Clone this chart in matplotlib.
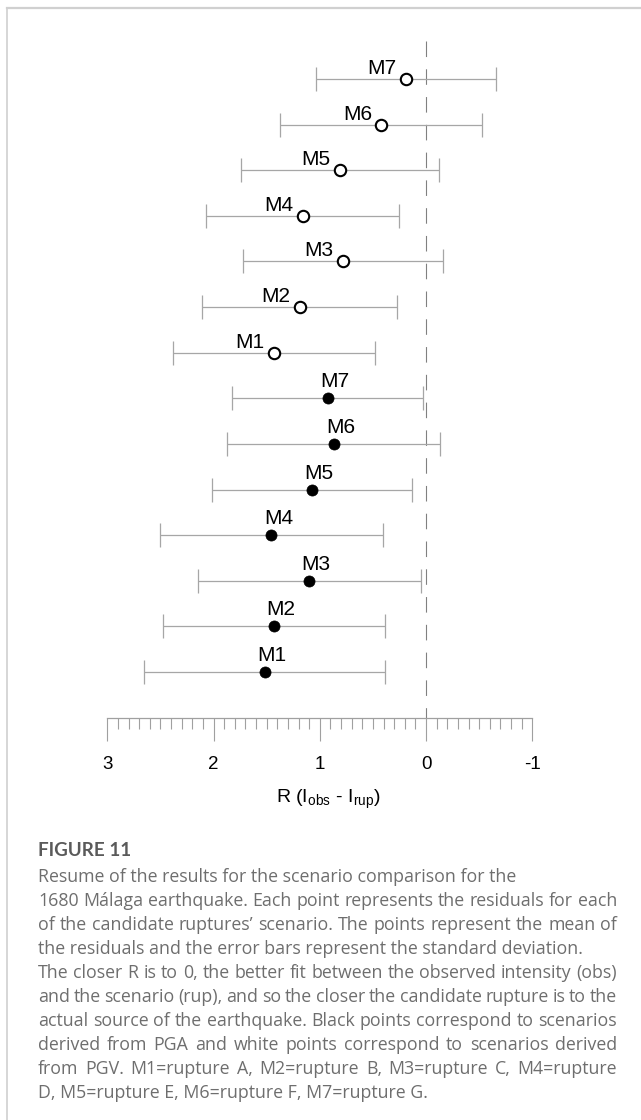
import matplotlib
matplotlib.use("Agg")
import matplotlib.pyplot as plt
from matplotlib.lines import Line2D
from matplotlib.ticker import FixedLocator

# ---------------- data ----------------
models = ["M1", "M2", "M3", "M4", "M5", "M6", "M7"]
pgv_mean = [1.43, 1.19, 0.78, 1.16, 0.81, 0.42, 0.19]   # white points
pgv_sd = [0.95, 0.92, 0.94, 0.91, 0.93, 0.95, 0.85]
pga_mean = [1.52, 1.43, 1.10, 1.455, 1.075, 0.87, 0.925]  # black points
pga_sd = [1.13, 1.045, 1.05, 1.05, 0.94, 1.00, 0.90]
xticks = [3, 2, 1, 0, -1]
xtick_labels = ["3", "2", "1", "0", "-1"]
xlabel = r"R (I$_{\mathrm{obs}}$ - I$_{\mathrm{rup}}$)"
caption_title = "FIGURE 11"
caption_lines = [
    ("Resume of the results for the scenario comparison for the", False),
    ("1680 Málaga earthquake. Each point represents the residuals for each", True),
    ("of the candidate ruptures\u2019 scenario. The points represent the mean of", True),
    ("the residuals and the error bars represent the standard deviation.", False),
    ("The closer R is to 0, the better fit between the observed intensity (obs)", True),
    ("and the scenario (rup), and so the closer the candidate rupture is to the", True),
    ("actual source of the earthquake. Black points correspond to scenarios", True),
    ("derived from PGA and white points correspond to scenarios derived", True),
    ("from PGV. M1=rupture A, M2=rupture B, M3=rupture C, M4=rupture", True),
    ("D, M5=rupture E, M6=rupture F, M7=rupture G.", False),
]

# ---------------- layout ----------------
W, H, DPI = 641, 1120, 100
plt.rcParams["mathtext.fontset"] = "custom"
plt.rcParams["mathtext.rm"] = "Liberation Sans"
plt.rcParams["mathtext.it"] = "Liberation Sans:italic"
plt.rcParams["font.family"] = ["Liberation Sans", "DejaVu Sans"]

fig = plt.figure(figsize=(W / DPI, H / DPI), dpi=DPI)
fig.patch.set_facecolor("white")

ax_l, ax_r, ax_t, ax_b = 40, 600, 30, 718
ax = fig.add_axes([ax_l / W, 1 - ax_b / H, (ax_r - ax_l) / W, (ax_b - ax_t) / H])

px_per_unit = 106.25
x0_px = 426.05
ax.set_xlim((x0_px - ax_l) / px_per_unit, -(ax_r - x0_px) / px_per_unit)
row_px0, row_step = 79.0, 45.62
ax.set_ylim((ax_b - row_px0) / row_step, (ax_t - row_px0) / row_step)

n = len(models)
pgv_rows = [n - 1 - i for i in range(n)]          # M7 at top
pga_rows = [2 * n - 1 - i for i in range(n)]

bar_color = "#a6a6a6"
ax.vlines(0, (41 - row_px0) / row_step, (ax_b - row_px0) / row_step,
          colors="#808080", linewidth=0.8, linestyles=(0, (14, 11)), zorder=1)

ebkw = dict(fmt="none", ecolor=bar_color, elinewidth=0.9, capsize=8.3,
            capthick=0.9, zorder=2)
ax.errorbar(pgv_mean, pgv_rows, xerr=pgv_sd, **ebkw)
ax.errorbar(pga_mean, pga_rows, xerr=pga_sd, **ebkw)
ax.plot(pgv_mean, pgv_rows, "o", ms=8.2, mfc="white", mec="black", mew=1.5,
        linestyle="none", zorder=3)
ax.plot(pga_mean, pga_rows, "o", ms=8.0, mfc="black", mec="black", mew=0.5,
        linestyle="none", zorder=3)

for m, x, y in zip(models, pgv_mean, pgv_rows):
    ax.annotate(m, (x, y), xytext=(-6.8, 3.6), textcoords="offset points",
                ha="right", va="baseline", fontsize=15, color="black")
for m, x, y in zip(models, pga_mean, pga_rows):
    ax.annotate(m, (x, y), xytext=(5.0, 7.9), textcoords="offset points",
                ha="center", va="baseline", fontsize=15, color="black")

for s in ["top", "left", "right"]:
    ax.spines[s].set_visible(False)
ax.spines["bottom"].set_bounds(-1, 3)
ax.spines["bottom"].set_color("#a0a0a0")
ax.spines["bottom"].set_linewidth(0.9)
ax.yaxis.set_visible(False)
ax.xaxis.set_major_locator(FixedLocator(xticks))
ax.set_xticklabels(xtick_labels)
ax.xaxis.set_minor_locator(FixedLocator([3 - 0.1 * k for k in range(41)]))
ax.tick_params(axis="x", which="major", direction="out", length=16.5, width=0.8,
               color="#a0a0a0", labelsize=13.5, pad=11.0, labelcolor="black")
ax.tick_params(axis="x", which="minor", direction="out", length=8.0, width=0.8,
               color="#a0a0a0")
fig.text(328 / W, 1 - 803 / H, xlabel, ha="center", va="baseline", fontsize=14)

# ---------------- frame ----------------
frame_c = "#d0d0d0"
fig.add_artist(Line2D([6.5 / W, 1], [1 - 7.5 / H, 1 - 7.5 / H], color=frame_c, lw=1.6,
                      transform=fig.transFigure))
fig.add_artist(Line2D([6.5 / W, 6.5 / W], [1 - 7.5 / H, 0], color=frame_c, lw=1.2,
                      transform=fig.transFigure))

# ---------------- caption ----------------
cap_x0, cap_x1 = 38, 617
cap_font = ["Open Sans", "DejaVu Sans"]
cap_size = 12.8
cap_color = "#6e6e6e"
fig.text(cap_x0 / W, 1 - 856 / H, caption_title, ha="left", va="baseline",
         fontsize=13.6, fontweight="bold", color="#5a5a5a", family=["Lato", "DejaVu Sans"])

renderer = fig.canvas.get_renderer()
base0, lstep = 881.7, 24.0
for k, (line, justify) in enumerate(caption_lines):
    yb = 1 - (base0 + k * lstep) / H
    if not justify:
        fig.text(cap_x0 / W, yb, line, ha="left", va="baseline", fontsize=cap_size,
                 color=cap_color, family=cap_font)
        continue
    words = line.split(" ")
    arts = [fig.text(0, yb, w, ha="left", va="baseline", fontsize=cap_size,
                     color=cap_color, family=cap_font) for w in words]
    widths = [a.get_window_extent(renderer).width for a in arts]
    gap = ((cap_x1 - cap_x0) - sum(widths)) / (len(words) - 1)
    xpos = cap_x0
    for a, wdt in zip(arts, widths):
        a.set_x(xpos / W)
        xpos += wdt + gap

fig.savefig("out.png", dpi=DPI, facecolor="white")
